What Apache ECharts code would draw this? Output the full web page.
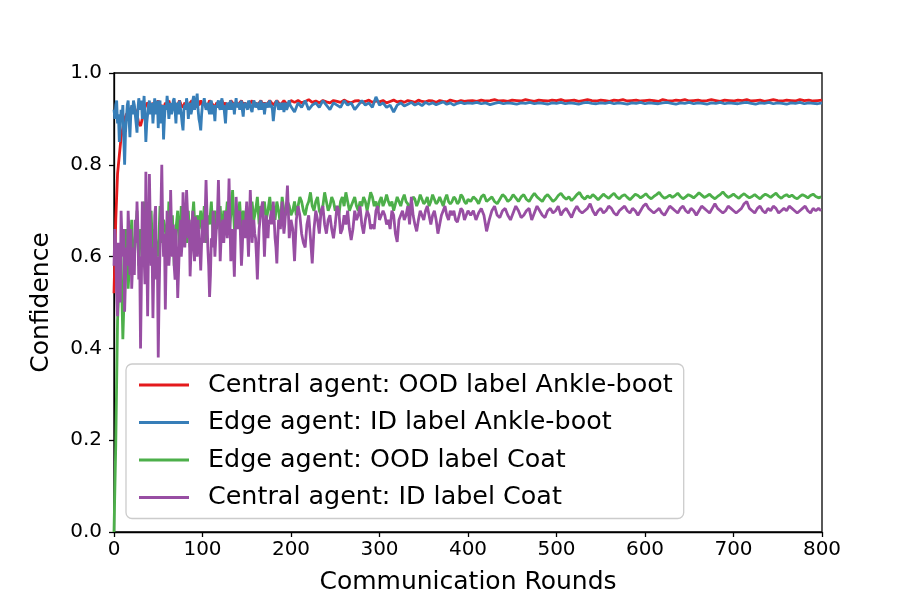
<!DOCTYPE html>
<html>
<head>
<meta charset="utf-8">
<script src="https://cdn.jsdelivr.net/npm/echarts@6/dist/echarts.min.js"></script>
<style>html,body{margin:0;padding:0;background:#fff}#c{width:913px;height:609px}</style>
</head>
<body>
<div id="c"></div>
<script>
// Sample rounds used for the readings
function seq(a, b, s) { var r = []; for (var v = a; v <= b; v += s) r.push(v); return r; }
var roundsA = seq(0, 200, 2);      // all series (even rounds)
var roundsOdd = seq(1, 199, 2);    // blue / purple (odd rounds)
var roundsB4 = seq(204, 400, 4);   // red / blue
var roundsC5 = seq(405, 800, 5);   // red / blue
var roundsB2 = seq(202, 400, 2);   // green / purple
var roundsC3 = seq(403, 800, 3);   // green / purple

var seriesNames = ['Central agent: OOD label Ankle-boot', 'Edge agent: ID label Ankle-boot', 'Edge agent: OOD label Coat', 'Central agent: ID label Coat'];
var xTicks = [0, 100, 200, 300, 400, 500, 600, 700, 800];
var yTicks = [0.0, 0.2, 0.4, 0.6, 0.8, 1.0];

// Central agent: OOD label Ankle-boot (red)
var redA = [
0.52,0.68,0.78,0.82,0.86,0.88,0.90,0.91,0.915,0.92,
0.925,0.93,0.92,0.91,0.89,0.885,0.90,0.92,0.93,0.935,
0.93,0.925,0.935,0.92,0.93,0.94,0.925,0.93,0.92,0.935,
0.93,0.94,0.925,0.93,0.935,0.92,0.93,0.94,0.93,0.925,
0.935,0.93,0.92,0.935,0.94,0.93,0.925,0.935,0.93,0.94,
0.93,0.935,0.925,0.93,0.94,0.935,0.93,0.925,0.935,0.93,
0.935,0.94,0.93,0.935,0.925,0.93,0.94,0.935,0.93,0.935,
0.93,0.935,0.94,0.93,0.935,0.93,0.925,0.935,0.94,0.93,
0.935,0.93,0.935,0.94,0.93,0.935,0.93,0.935,0.94,0.935,
0.93,0.935,0.94,0.935,0.93,0.935,0.94,0.935,0.93,0.935,
0.94];
var redB = [
0.936,0.94,0.935,0.938,0.942,0.936,0.939,0.935,0.94,0.937,
0.935,0.94,0.938,0.936,0.941,0.937,0.935,0.939,0.94,0.936,
0.938,0.941,0.936,0.939,0.937,0.94,0.935,0.938,0.941,0.937,
0.939,0.936,0.94,0.938,0.936,0.941,0.938,0.937,0.94,0.939,
0.936,0.94,0.938,0.937,0.941,0.939,0.937,0.94,0.938,0.939];
var redC = [
0.94,0.938,0.941,0.939,0.94,0.942,0.939,0.94,0.938,0.941,
0.94,0.939,0.942,0.94,0.938,0.941,0.94,0.939,0.941,0.94,
0.942,0.939,0.94,0.941,0.938,0.94,0.942,0.94,0.939,0.941,
0.94,0.938,0.941,0.94,0.942,0.939,0.94,0.941,0.939,0.94,
0.941,0.94,0.938,0.942,0.94,0.939,0.941,0.94,0.942,0.939,
0.94,0.941,0.939,0.94,0.942,0.94,0.938,0.941,0.94,0.939,
0.941,0.94,0.942,0.939,0.94,0.941,0.938,0.94,0.942,0.94,
0.939,0.941,0.94,0.939,0.942,0.94,0.941,0.939,0.94,0.941];

// Edge agent: ID label Ankle-boot (blue)
var blueA = [
0.92,0.93,0.89,0.85,0.92,0.93,0.80,0.90,0.94,0.86,
0.93,0.94,0.91,0.87,0.945,0.92,0.90,0.95,0.85,0.91,
0.94,0.92,0.89,0.945,0.93,0.88,0.94,0.92,0.855,0.93,
0.95,0.90,0.935,0.92,0.945,0.89,0.93,0.94,0.91,0.875,
0.93,0.945,0.90,0.935,0.92,0.95,0.93,0.955,0.90,0.875,
0.93,0.945,0.92,0.935,0.91,0.94,0.93,0.895,0.925,0.94,
0.92,0.945,0.93,0.89,0.935,0.92,0.94,0.93,0.91,0.945,
0.93,0.92,0.94,0.905,0.935,0.925,0.94,0.93,0.915,0.94,
0.925,0.935,0.92,0.94,0.93,0.91,0.935,0.925,0.94,0.93,
0.895,0.93,0.94,0.92,0.935,0.93,0.915,0.935,0.925,0.94,
0.93];
var blueOdd = [
0.90,0.94,0.91,0.88,0.90,0.86,0.87,0.93,0.90,0.91,
0.91,0.93,0.89,0.92,0.93,0.94,0.92,0.91,0.89,0.93,
0.91,0.935,0.92,0.91,0.94,0.93,0.89,0.93,0.90,0.92,
0.93,0.92,0.91,0.94,0.92,0.935,0.91,0.925,0.89,0.92,
0.92,0.93,0.925,0.91,0.94,0.92,0.94,0.92,0.89,0.91,
0.935,0.93,0.925,0.92,0.935,0.91,0.92,0.93,0.935,0.925,
0.935,0.92,0.91,0.925,0.93,0.935,0.92,0.935,0.93,0.925,
0.935,0.93,0.92,0.93,0.935,0.92,0.935,0.92,0.93,0.935,
0.93,0.925,0.935,0.92,0.935,0.925,0.93,0.935,0.925,0.92,
0.915,0.935,0.93,0.925,0.92,0.935,0.93,0.92,0.935,0.93];
var blueB = [
0.915,0.935,0.925,0.94,0.92,0.93,0.935,0.925,0.94,0.93,
0.92,0.935,0.93,0.925,0.94,0.93,0.935,0.92,0.93,0.94,
0.93,0.935,0.925,0.948,0.93,0.935,0.925,0.93,0.915,0.93,
0.935,0.928,0.932,0.936,0.93,0.934,0.929,0.936,0.932,0.935,
0.931,0.934,0.937,0.932,0.935,0.93,0.934,0.936,0.933,0.935];
var blueC = [
0.934,0.936,0.933,0.935,0.931,0.934,0.936,0.933,0.935,0.934,
0.932,0.935,0.934,0.936,0.933,0.935,0.934,0.932,0.935,0.934,
0.936,0.933,0.935,0.934,0.932,0.935,0.936,0.934,0.933,0.935,
0.934,0.936,0.933,0.935,0.934,0.932,0.935,0.934,0.936,0.933,
0.935,0.934,0.933,0.935,0.936,0.934,0.932,0.935,0.934,0.936,
0.933,0.935,0.934,0.932,0.935,0.934,0.936,0.933,0.935,0.934,
0.933,0.935,0.936,0.934,0.932,0.935,0.934,0.936,0.933,0.935,
0.934,0.932,0.935,0.934,0.936,0.933,0.935,0.934,0.933,0.935];

// Edge agent: OOD label Coat (green)
var greenA = [
0.00,0.19,0.46,0.55,0.60,0.42,0.55,0.66,0.53,0.60,
0.68,0.56,0.64,0.70,0.58,0.66,0.62,0.72,0.60,0.67,
0.64,0.70,0.58,0.66,0.62,0.60,0.71,0.63,0.68,0.66,
0.60,0.72,0.64,0.69,0.58,0.66,0.70,0.62,0.71,0.65,
0.68,0.63,0.70,0.62,0.67,0.72,0.64,0.69,0.66,0.70,
0.65,0.71,0.63,0.69,0.67,0.72,0.64,0.70,0.66,0.68,
0.71,0.64,0.70,0.67,0.72,0.65,0.69,0.745,0.66,0.70,
0.68,0.72,0.65,0.70,0.67,0.71,0.69,0.66,0.72,0.68,
0.70,0.73,0.67,0.71,0.69,0.72,0.68,0.70,0.73,0.69,
0.71,0.68,0.72,0.70,0.67,0.73,0.70,0.69,0.72,0.71,
0.69];
var greenB = [
0.70,0.72,0.69,0.71,0.73,0.72,0.70,0.69,0.71,0.72,
0.74,0.71,0.70,0.72,0.73,0.70,0.69,0.71,0.74,0.72,
0.70,0.71,0.73,0.72,0.70,0.71,0.69,0.72,0.73,0.71,
0.74,0.72,0.70,0.71,0.72,0.73,0.71,0.70,0.72,0.71,
0.73,0.72,0.70,0.72,0.74,0.73,0.71,0.72,0.70,0.72,
0.73,0.71,0.72,0.735,0.72,0.71,0.72,0.70,0.715,0.73,
0.72,0.71,0.725,0.735,0.72,0.715,0.70,0.72,0.73,0.725,
0.71,0.72,0.735,0.725,0.715,0.72,0.73,0.71,0.72,0.735,
0.725,0.715,0.72,0.73,0.72,0.71,0.725,0.735,0.72,0.715,
0.72,0.73,0.725,0.715,0.72,0.735,0.73,0.72,0.715,0.725];
var greenC = [
0.72,0.73,0.725,0.715,0.73,0.735,0.72,0.725,0.73,0.72,
0.715,0.725,0.735,0.73,0.72,0.725,0.735,0.728,0.72,0.73,
0.735,0.725,0.72,0.73,0.738,0.73,0.725,0.72,0.73,0.735,
0.728,0.72,0.725,0.733,0.738,0.73,0.725,0.73,0.722,0.728,
0.735,0.74,0.73,0.725,0.732,0.728,0.735,0.73,0.724,0.73,
0.736,0.731,0.727,0.733,0.738,0.73,0.726,0.732,0.735,0.729,
0.724,0.73,0.736,0.733,0.728,0.732,0.737,0.73,0.726,0.731,
0.735,0.74,0.732,0.727,0.73,0.734,0.729,0.733,0.738,0.731,
0.726,0.73,0.735,0.732,0.728,0.733,0.739,0.734,0.729,0.732,
0.736,0.73,0.726,0.731,0.735,0.741,0.734,0.729,0.732,0.736,
0.731,0.727,0.733,0.737,0.732,0.728,0.731,0.735,0.73,0.726,
0.732,0.736,0.733,0.729,0.734,0.738,0.731,0.727,0.732,0.735,
0.73,0.734,0.729,0.726,0.731,0.735,0.732,0.728,0.733,0.736,
0.731,0.728,0.73];

// Central agent: ID label Coat (purple)
var purpleA = [
0.58,0.62,0.47,0.55,0.70,0.60,0.48,0.62,0.70,0.56,
0.53,0.62,0.68,0.72,0.55,0.40,0.72,0.60,0.785,0.47,
0.78,0.58,0.466,0.69,0.55,0.38,0.62,0.80,0.60,0.485,
0.70,0.58,0.745,0.60,0.58,0.66,0.51,0.63,0.60,0.74,
0.62,0.745,0.64,0.557,0.66,0.62,0.687,0.60,0.64,0.57,
0.68,0.63,0.767,0.62,0.512,0.64,0.70,0.60,0.67,0.767,
0.59,0.67,0.63,0.70,0.64,0.77,0.59,0.66,0.556,0.73,
0.66,0.70,0.58,0.68,0.64,0.72,0.60,0.745,0.63,0.68,
0.64,0.55,0.66,0.70,0.72,0.60,0.69,0.64,0.67,0.70,
0.72,0.64,0.585,0.68,0.66,0.72,0.65,0.70,0.755,0.64,
0.68];
var purpleOdd = [
0.66,0.52,0.63,0.50,0.64,0.66,0.55,0.58,0.65,0.66,
0.58,0.56,0.63,0.66,0.60,0.55,0.67,0.54,0.62,0.63,
0.67,0.62,0.58,0.71,0.60,0.52,0.70,0.67,0.65,0.60,
0.64,0.61,0.66,0.67,0.55,0.60,0.57,0.68,0.63,0.69,
0.66,0.70,0.68,0.61,0.70,0.59,0.66,0.68,0.62,0.63,
0.66,0.69,0.70,0.58,0.56,0.62,0.66,0.64,0.70,0.68,
0.64,0.68,0.66,0.67,0.69,0.68,0.62,0.61,0.64,0.69,
0.67,0.64,0.62,0.66,0.69,0.65,0.67,0.69,0.66,0.65,
0.60,0.61,0.68,0.70,0.66,0.65,0.66,0.68,0.69,0.67,
0.68,0.62,0.64,0.67,0.69,0.68,0.67,0.72,0.70,0.66];
var purpleB = [
0.66,0.59,0.68,0.71,0.69,0.65,0.63,0.62,0.67,0.69,
0.64,0.585,0.66,0.70,0.68,0.65,0.70,0.71,0.67,0.65,
0.68,0.69,0.66,0.64,0.67,0.71,0.70,0.65,0.66,0.69,
0.67,0.70,0.66,0.636,0.66,0.70,0.68,0.69,0.71,0.67,
0.65,0.68,0.70,0.69,0.66,0.67,0.66,0.70,0.71,0.68,
0.68,0.70,0.69,0.67,0.68,0.66,0.70,0.69,0.65,0.632,
0.68,0.69,0.70,0.68,0.69,0.71,0.67,0.73,0.69,0.67,
0.655,0.68,0.70,0.69,0.68,0.70,0.71,0.69,0.67,0.69,
0.70,0.68,0.65,0.67,0.69,0.70,0.71,0.69,0.68,0.70,
0.69,0.70,0.68,0.675,0.69,0.705,0.70,0.68,0.69,0.70];
var purpleC = [
0.69,0.70,0.68,0.695,0.705,0.69,0.655,0.68,0.70,0.71,
0.69,0.685,0.70,0.705,0.69,0.68,0.695,0.71,0.70,0.685,
0.69,0.70,0.705,0.68,0.695,0.71,0.70,0.69,0.685,0.70,
0.705,0.695,0.70,0.71,0.69,0.70,0.705,0.695,0.685,0.70,
0.71,0.70,0.695,0.70,0.705,0.715,0.70,0.69,0.70,0.705,
0.695,0.70,0.71,0.705,0.695,0.69,0.70,0.705,0.71,0.70,
0.695,0.705,0.70,0.69,0.70,0.71,0.715,0.705,0.70,0.695,
0.70,0.705,0.695,0.69,0.70,0.71,0.705,0.70,0.695,0.705,
0.71,0.70,0.695,0.705,0.70,0.69,0.70,0.71,0.705,0.70,
0.695,0.705,0.715,0.705,0.70,0.695,0.70,0.71,0.705,0.70,
0.695,0.70,0.705,0.715,0.72,0.705,0.70,0.695,0.705,0.71,
0.70,0.695,0.705,0.70,0.71,0.705,0.695,0.70,0.705,0.70,
0.71,0.705,0.70,0.695,0.70,0.705,0.71,0.70,0.695,0.705,
0.70,0.705,0.70];

var colors = ['#e41a1c', '#377eb8', '#4daf4a', '#984ea3'];

function pairs(parts) {
  var out = [];
  parts.forEach(function (p) {
    var xs = p[0], ys = p[1];
    for (var i = 0; i < xs.length && i < ys.length; i++) out.push([xs[i], ys[i]]);
  });
  out.sort(function (a, b) { return a[0] - b[0]; });
  return out;
}
var seriesData = [
  pairs([[roundsA, redA], [roundsB4, redB], [roundsC5, redC]]),
  pairs([[roundsA, blueA], [roundsOdd, blueOdd], [roundsB4, blueB], [roundsC5, blueC]]),
  pairs([[roundsA, greenA], [roundsB2, greenB], [roundsC3, greenC]]),
  pairs([[roundsA, purpleA], [roundsOdd, purpleOdd], [roundsB2, purpleB], [roundsC3, purpleC]])
];

var FONT = 'DejaVu Sans';
var chart = echarts.init(document.getElementById('c'), null, {renderer: 'canvas'});
chart.setOption({
  animation: false,
  backgroundColor: '#ffffff',
  grid: {left: 114, right: 91, top: 73, bottom: 77, show: true, borderColor: '#000', borderWidth: 1.3, backgroundColor: 'transparent'},
  xAxis: {
    type: 'value', min: xTicks[0], max: xTicks[xTicks.length - 1], interval: 100,
    name: 'Communication Rounds', nameLocation: 'middle', nameGap: 38,
    nameTextStyle: {fontFamily: FONT, fontSize: 25, color: '#000'},
    axisLine: {show: true, onZero: false, lineStyle: {color: '#000', width: 1.3}},
    axisTick: {show: true, inside: false, length: 5, lineStyle: {color: '#000', width: 1.3}},
    axisLabel: {fontFamily: FONT, fontSize: 20, color: '#000', margin: 8},
    splitLine: {show: false}
  },
  yAxis: {
    type: 'value', min: yTicks[0], max: yTicks[yTicks.length - 1], interval: 0.2,
    name: 'Confidence', nameLocation: 'middle', nameGap: 60, nameRotate: 90,
    nameTextStyle: {fontFamily: FONT, fontSize: 25, color: '#000'},
    axisLine: {show: true, onZero: false, lineStyle: {color: '#000', width: 1.3}},
    axisTick: {show: true, inside: false, length: 5, lineStyle: {color: '#000', width: 1.3}},
    axisLabel: {fontFamily: FONT, fontSize: 20, color: '#000', margin: 12, formatter: function (v) { return v.toFixed(1); }},
    splitLine: {show: false}
  },
  legend: {
    show: true, orient: 'vertical', left: 126, top: 364,
    data: seriesNames, icon: 'rect', itemWidth: 50, itemHeight: 3, itemGap: 11.5,
    padding: [8, 11, 8, 13],
    backgroundColor: 'rgba(255,255,255,0.85)', borderColor: '#cccccc', borderWidth: 1.3, borderRadius: 6,
    textStyle: {fontFamily: FONT, fontSize: 25.4, color: '#000', lineHeight: 26, padding: [0, 0, 0, 14]},
    z: 10
  },
  series: seriesNames.map(function (n, i) {
    return {
      name: n, type: 'line', data: seriesData[i], showSymbol: false, symbol: 'none',
      lineStyle: {color: colors[i], width: 2.8}, itemStyle: {color: colors[i]},
      clip: true, z: 2 + i
    };
  })
});
</script>
</body>
</html>
